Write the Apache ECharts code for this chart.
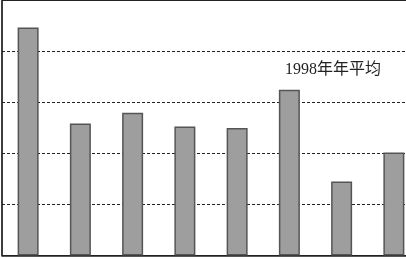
<!DOCTYPE html>
<html>
<head>
<meta charset="utf-8">
<script src="https://cdn.jsdelivr.net/npm/echarts@6/dist/echarts.min.js"></script>
<style>html,body{margin:0;padding:0;background:#fff;}#c{width:406px;height:259px;}</style>
</head>
<body>
<div id="c"></div>
<script>
var categories = ['1', '2', '3', '4', '5', '6', '7', '8'];
var values = [4.47, 2.59, 2.80, 2.53, 2.50, 3.25, 1.45, 2.02];
var annotation = '1998年年平均';

var chart = echarts.init(document.getElementById('c'), null, {renderer: 'canvas'});
chart.setOption({
  animation: false,
  backgroundColor: '#fff',
  grid: {left: 2, top: 0.5, width: 418, height: 255, show: true, borderColor: '#222', borderWidth: 1, backgroundColor: 'transparent', outerBoundsMode: 'none', containLabel: false},
  xAxis: {
    type: 'category', data: categories,
    axisLine: {lineStyle: {color: '#222', width: 1.5}},
    axisTick: {inside: true, length: 4, lineStyle: {color: '#222'}},
    axisLabel: {show: false}
  },
  yAxis: {
    type: 'value', min: 0, max: 5, interval: 1,
    axisLine: {show: true, lineStyle: {color: '#222', width: 1.5}},
    axisTick: {show: false},
    axisLabel: {show: false},
    splitLine: {lineStyle: {color: '#222', type: [3, 2], width: 1.2}}
  },
  series: [{
    type: 'bar', data: values, barWidth: 21,
    itemStyle: {color: '#9e9e9e', borderColor: '#555', borderWidth: 1.5}
  }],
  graphic: [{
    type: 'text', left: 285, top: 62,
    style: {text: annotation, fill: '#222', font: '16px "Liberation Serif", "Noto Sans CJK SC"'}
  }]
});
</script>
</body>
</html>
